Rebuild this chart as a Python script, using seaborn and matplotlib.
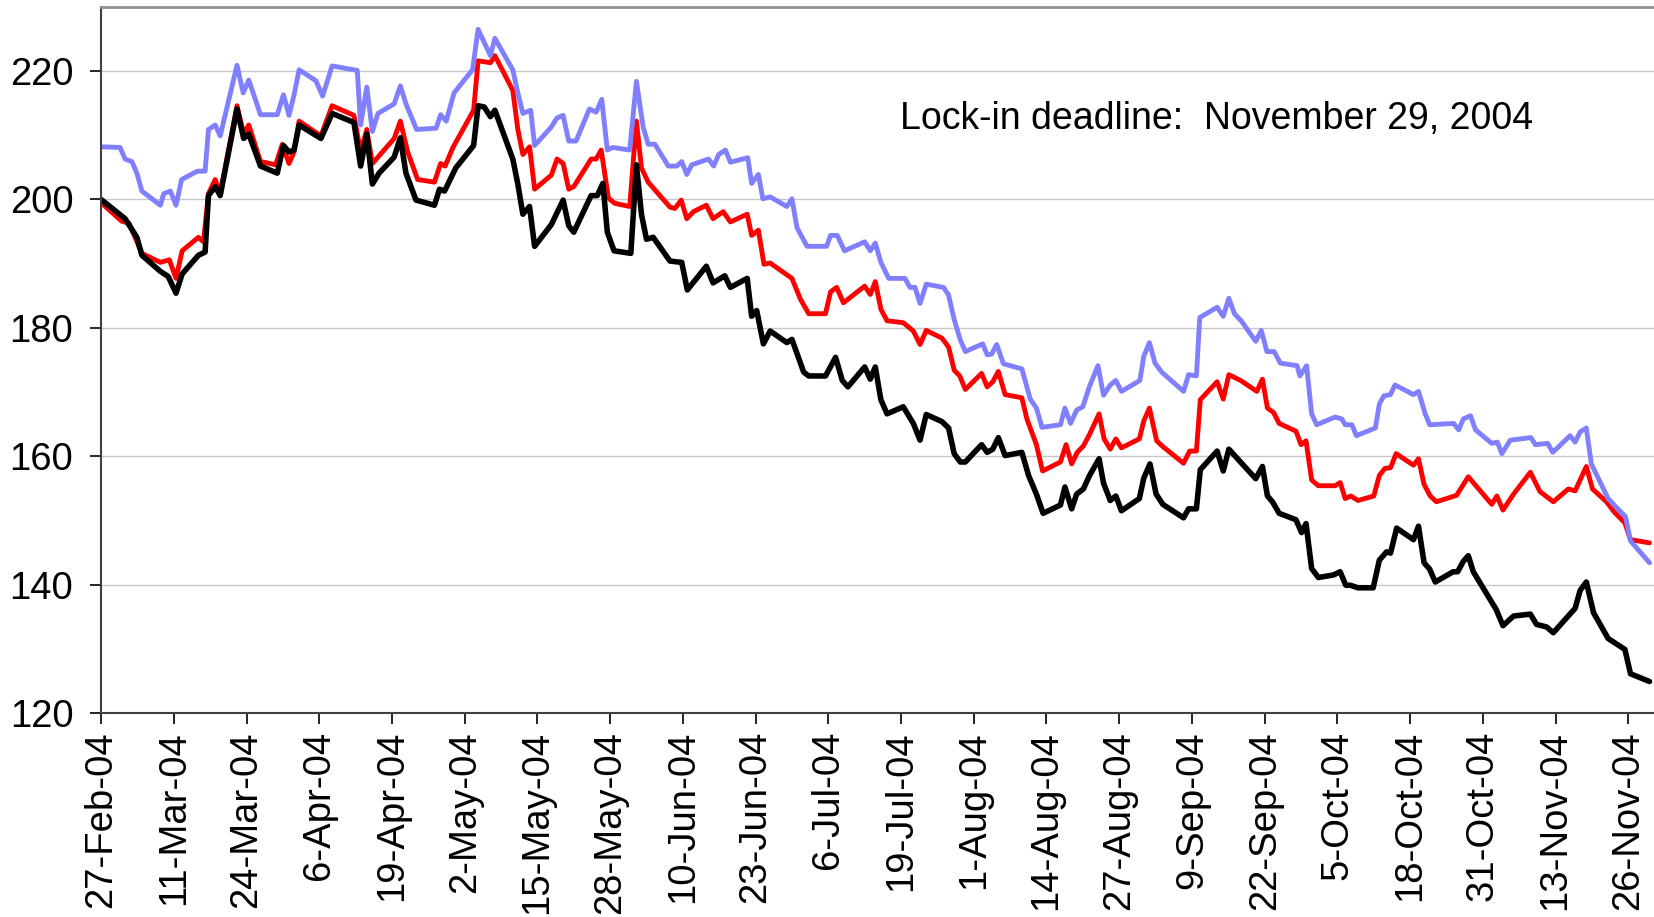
import pandas as pd
import numpy as np
import seaborn as sns
import matplotlib.pyplot as plt
import matplotlib.dates as mdates

# day offsets from 27-Feb-2004 and values
black_days = [0, 3.7, 4.3, 6.4, 7.3, 10.6, 12, 13.4, 14.5, 17.4, 18.6, 19.2, 20.4, 21.3, 24.3, 25.5, 26.4, 28.5, 31.5, 32.6, 33.6, 34.5, 35.4,
              39.3, 41.3, 45.2, 46.4, 47.5, 48.5, 49.7, 52.4, 53.5, 54.5, 56.3, 59.6, 60.5, 61.4, 63.4, 66.6, 67.4, 68.5, 69.6, 70.4,
              73.6, 74.5, 75.4, 76.6, 77.5, 80.5, 82.6, 83.6, 84.5, 87.6, 88.7, 89.7, 90.5, 91.7, 94.7, 95.7, 96.6, 97.5, 98.7, 101.7, 103.8, 104.8,
              108.2, 109.4, 111.5, 112.5, 115.5, 116.3, 117.2, 118.4, 119.6, 122.6, 123.5, 125.6, 126.5, 129.5, 131.3, 132.5, 133.5, 136.5, 137.5, 138.4, 139.4, 140.5,
              143.4, 145.2, 146.4, 147.5, 150.3, 151.5, 152.5, 153.6, 154.5, 157.4, 158.4, 159.4, 160.4, 161.6, 164.6, 165.8, 167.2, 168.4, 171.5, 172.3, 173.5, 174.4, 175.6,
              176.7, 178.4, 179.2, 180.4, 181.4, 182.4, 185.6, 186.4, 187.5, 188.6, 189.8, 193.5, 194.4, 195.8, 196.5, 199.5, 200.6, 201.6, 206.4, 207.6, 208.5, 209.4, 210.6, 213.6,
              214.6, 215.4, 216.4, 217.6, 220.3, 221.5, 222.5, 223.3, 224.7, 227.4, 228.5, 229.8, 230.5, 231.6, 234.6, 235.5, 236.5, 237.5, 238.5, 241.7, 242.5, 243.5,
              244.4, 245.3, 249.4, 250.6, 252.5, 255.5, 256.6, 258.4, 259.6, 263.5, 264.4, 265.5, 266.8, 269.4, 272.4, 273.4, 276.8]
black_vals = [200, 197.4, 197, 194.1, 191.3, 188.8, 188, 185.4, 188.4, 191.3, 191.8, 200.6, 202, 200.6, 214.1, 209.5, 210.2, 205.2, 204.1, 208.4, 207.4, 207.7, 211.6,
              209.5, 213.4, 212, 205.2, 210.2, 202.4, 204.1, 206.6, 209.6, 204.1, 199.9, 199.1, 201.6, 201.3, 204.9, 208.4, 214.6, 214.4, 212.9, 213.9,
              206.3, 202.4, 197.7, 198.9, 192.7, 196.1, 199.9, 195.9, 194.9, 200.6, 200.6, 202.5, 194.9, 192, 191.6, 205.4, 197.7, 193.8, 194.1, 190.4, 190.2, 185.9,
              189.6, 187, 188.1, 186.3, 187.7, 181.8, 182.7, 177.5, 179.5, 177.7, 178.2, 173.1, 172.5, 172.5, 175.4, 171.8, 170.8, 173.9, 172, 173.9, 168.8, 166.6,
              167.7, 165.1, 162.5, 166.5, 165.4, 164.4, 160.4, 159.1, 159.1, 161.8, 160.6, 161.1, 162.9, 160.1, 160.6, 157, 154.1, 151.1, 152.4, 155.2, 151.8, 154.1, 154.9,
              157, 159.6, 155.8, 153.1, 153.8, 151.5, 153.4, 156.6, 158.8, 154.1, 152.5, 150.4, 151.8, 151.8, 157.9, 160.8, 157.7, 161.1, 156.5, 158.4, 153.8, 152.9, 151.1, 150.1,
              148.1, 149.5, 142.5, 141.1, 141.5, 142, 139.9, 139.9, 139.5, 139.5, 143.8, 145.1, 144.9, 148.8, 147, 149.1, 143.4, 142.4, 140.4, 142, 142, 143.6,
              144.5, 142, 136.1, 133.6, 135.1, 135.4, 133.8, 133.4, 132.5, 136.3, 139.1, 140.4, 135.6, 131.6, 129.9, 126.1, 124.9]

red_days = [0, 3.7, 5, 7.3, 10.6, 12.2, 13.4, 14.5, 17.4, 18.3, 19.2, 20.4, 21.3, 24.3, 25.5, 26.4, 28.5, 31.2, 32.4, 33.6, 34.5, 35.4,
            39.3, 41.3, 45.2, 46.4, 47.5, 48.5, 52.4, 53.5, 54.8, 56.6, 59.6, 60.7, 61.5, 62.9, 66.6, 67.4, 69.6, 70.4,
            73.6, 74.5, 75.4, 76.6, 77.5, 80.5, 81.5, 82.6, 83.6, 84.5, 87.6, 88.5, 89.4, 90.7, 91.8, 94.5, 95.7, 96.6, 97.8, 101.7, 102.6, 103.7, 104.7, 105.9,
            108.2, 109.4, 111.2, 112.5, 115.5, 116.3, 117.5, 118.5, 119.6, 123.5, 125, 126.5, 129.5, 130.4, 131.5, 132.7, 136.5, 137.5, 138.4, 139.4, 140.5,
            143.4, 145.2, 146.4, 147.5, 150.3, 151.5, 152.5, 153.5, 154.5, 157.4, 158.4, 159.4, 160.4, 161.6, 164.6, 165.5, 167.2, 168.3, 171.5, 172.5, 173.5, 174.5, 175.6,
            176.7, 178.4, 179.3, 180.4, 181.4, 182.4, 185.6, 186.4, 187.4, 188.7, 189.8, 193.5, 194.6, 195.8, 196.5, 199.5, 200.6, 201.6, 203.7, 206.6, 207.6, 208.5, 209.6, 210.6, 213.6,
            214.5, 215.4, 216.4, 217.6, 220.6, 221.5, 222.4, 223.4, 224.7, 227.5, 228.5, 229.5, 230.5, 231.5, 234.6, 235.5, 236.5, 237.6, 238.7, 242.3,
            244.4, 248.6, 249.5, 250.6, 252.5, 255.5, 257.2, 259.6, 262.3, 263.5, 265.5, 266.6, 269.1, 270.5, 272.4, 273.4, 276.8]
red_vals = [199.5, 196.6, 196.3, 191.6, 190.2, 190.6, 187.7, 192, 194.1, 193.4, 200.9, 203.1, 200.9, 214.6, 210.2, 211.6, 205.9, 205.4, 208.6, 205.6, 207.4, 212.2,
            209.9, 214.6, 213.1, 207.4, 210.9, 205.6, 209.5, 212.2, 207.4, 203.1, 202.7, 205.6, 205.2, 208.1, 213.9, 221.6, 221.3, 222.4,
            217, 210.9, 207, 208.2, 201.6, 203.8, 206.3, 205.6, 201.6, 202, 206.3, 206.3, 207.7, 200.2, 199.4, 198.9, 212.2, 204.9, 202.7, 198.8, 198.6, 199.9, 197, 198.1,
            199.1, 197, 198.1, 196.5, 197.7, 194.4, 195.2, 189.9, 190.1, 187.7, 184.5, 182.2, 182.2, 185.6, 186.3, 183.9, 186.5, 185.2, 187.2, 182.9, 181.1,
            180.8, 179.5, 177.4, 179.6, 178.4, 177, 173.4, 172.5, 170.4, 172.9, 170.8, 171.6, 173.2, 169.6, 169.1, 165.8, 161.8, 157.7, 159.1, 161.8, 158.8, 160.6, 161.6,
            163.4, 166.6, 162.7, 161.1, 162.7, 161.3, 162.7, 165.5, 167.5, 162.4, 161.5, 158.9, 160.8, 160.8, 168.8, 171.6, 168.9, 172.7, 171.8, 170.1, 172, 167.5, 166.8, 165.1, 163.9,
            161.8, 162.4, 156.3, 155.4, 155.4, 155.9, 153.4, 153.8, 153.1, 153.8, 157, 158.1, 158.2, 160.4, 158.6, 159.6, 155.6, 153.8, 152.9, 153.9,
            156.8, 152.5, 153.8, 151.6, 154.1, 157.5, 154.5, 152.9, 154.9, 154.6, 158.4, 154.9, 152.9, 151.3, 149.6, 147, 146.5]

blue_days = [0, 3.4, 4.3, 5.5, 6.4, 7.3, 10.6, 11.2, 12.4, 13.4, 14.4, 17.2, 18.6, 19.2, 20.4, 21.3, 24.3, 25.4, 26.4, 28.5, 31.5, 32.6, 33.6, 34.5, 35.4,
             38.4, 39.6, 41.3, 45.8, 46.4, 47.5, 48.5, 49.5, 52.4, 53.5, 54.5, 56.4, 59.9, 60.7, 61.7, 63.1, 66.4, 67.4, 69.6, 70.4,
             73.6, 74.5, 75.4, 76.8, 77.5, 80.5, 81.5, 82.6, 83.6, 84.9, 87.3, 88.5, 89.5, 90.5, 91.5, 94.5, 95.7, 96.9, 97.8, 99, 101.4, 102.9, 103.8, 104.7, 105.6,
             108.6, 109.5, 110.4, 111.6, 112.5, 115.6, 116.3, 117.5, 118.3, 119.6, 122.6, 123.5, 124.4, 126.2, 129.7, 130.4, 131.6, 132.9, 136.5, 137.5, 138.4, 139.4, 140.8,
             143.7, 144.6, 145.5, 146.4, 147.5, 150.6, 151.5, 152.5, 153.6, 154.5, 157.6, 158.4, 159.2, 160.1, 161.3, 164.6, 166.1, 167.2, 168.2, 171.5, 172.3, 173.3, 174.4, 175.5,
             176.7, 178.2, 179.2, 180.4, 181.4, 182.4, 185.7, 186.4, 187.4, 188.4, 189.6, 193.5, 194.4, 195.8, 196.4, 199.5, 200.6, 201.6, 202.6, 203.8, 206.4, 207.4, 208.4, 209.7, 210.8, 213.8,
             214.3, 215.5, 216.4, 217.3, 220.6, 221.8, 222.4, 223.6, 224.4, 227.8, 228.5, 229.3, 230.5, 231.3, 234.6, 235.5, 236.7, 237.5, 241.8, 242.7, 243.5, 244.8, 245.7,
             248.6, 249.6, 250.4, 251.9, 255.6, 256.4, 258.6, 259.5, 262.6, 263.5, 264.4, 265.5, 266.4, 269.4, 270.9, 272.5, 273.4, 276.8]
blue_vals = [208.2, 208.1, 206.3, 205.9, 204.1, 201.3, 199.1, 200.9, 201.3, 199.1, 203.1, 204.4, 204.4, 210.9, 211.6, 209.9, 220.9, 216.6, 218.6, 213.2, 213.2, 216.3, 213.1, 216.3, 220.2,
             218.5, 216.1, 220.8, 220.1, 211.6, 217.5, 210.6, 213.4, 214.9, 217.7, 214.9, 210.9, 211.1, 213.2, 212.2, 216.6, 220.2, 226.5, 222.4, 225.1,
             220.2, 216.6, 213.4, 213.9, 208.4, 211.3, 212.7, 213.1, 209.1, 209.1, 214.1, 213.6, 215.6, 207.7, 208.1, 207.7, 218.4, 211.3, 208.6, 208.6, 205.2, 205.2, 205.9, 203.9, 205.4,
             206.3, 205.2, 207, 207.7, 205.8, 206.5, 202.5, 203.9, 200.1, 200.4, 198.9, 200.1, 195.6, 192.7, 192.7, 194.4, 194.4, 192, 193.4, 192, 193.2, 190.2, 187.7,
             187.7, 186.3, 186.3, 183.8, 186.8, 186.3, 185.1, 181.3, 178.1, 176.3, 177.5, 175.8, 175.9, 177.4, 174.4, 173.6, 168.9, 167.5, 164.5, 164.9, 167.5, 165.1, 167.2, 167.7,
             170.9, 174.1, 169.5, 171.1, 171.8, 170.1, 171.8, 175.6, 177.7, 174.5, 173.1, 170.1, 172.7, 172.5, 181.6, 183.2, 181.8, 184.6, 182.2, 181.1, 177.9, 179.6, 176.3, 176.3, 174.5, 174.1,
             172.5, 174.1, 166.6, 164.9, 166.1, 165.8, 164.9, 164.9, 163.2, 164.4, 168.1, 169.4, 169.6, 171.1, 169.6, 170.1, 166.6, 164.9, 165.1, 164.1, 165.8, 166.3, 164.1,
             162, 162.2, 160.4, 162.5, 162.9, 161.8, 162, 160.6, 163.2, 162.2, 163.8, 164.4, 158.8, 153.4, 152, 150.6, 146.8, 143.4]

start = pd.Timestamp('2004-02-27')
tick_dates = pd.date_range(start, periods=22, freq='13D')
tick_labels = [f"{d.day}-{d.strftime('%b-%y')}" for d in tick_dates]

def make_df(days, vals):
    return pd.DataFrame({'date': start + pd.to_timedelta(days, unit='D'), 'value': vals})

sns.set_style("white")
plt.rcParams['font.family'] = ['Liberation Sans', 'DejaVu Sans']
plt.rcParams['text.color'] = 'black'
plt.rcParams['xtick.color'] = 'black'
plt.rcParams['ytick.color'] = 'black'

fig = plt.figure(figsize=(16.54, 9.17), dpi=100)
ax = fig.add_axes([0.0611, 0.2225, 0.9389, 0.770])

ax.yaxis.grid(True, color='#c8c8c8', linewidth=1)
ax.set_axisbelow(True)

sns.lineplot(data=make_df(red_days, red_vals), x='date', y='value', color='#ff0000', linewidth=3.5, ax=ax, estimator=None, sort=False)
sns.lineplot(data=make_df(blue_days, blue_vals), x='date', y='value', color='#8080ff', linewidth=3.5, ax=ax, estimator=None, sort=False)
sns.lineplot(data=make_df(black_days, black_vals), x='date', y='value', color='black', linewidth=4, ax=ax, estimator=None, sort=False)

ax.set_ylim(120, 230)
ax.set_yticks([120, 140, 160, 180, 200, 220])
ax.set_xlim(start, start + pd.Timedelta(days=277.6))
ax.set_xticks(tick_dates)
ax.set_xticklabels(tick_labels, rotation=90)
ax.set_xlabel('')
ax.set_ylabel('')
ax.tick_params(axis='x', labelsize=27.5, length=8, width=1.2, direction='out', bottom=True, pad=5)
ax.tick_params(axis='y', labelsize=27.5, length=8, width=1.2, direction='out', left=True, pad=12)

for s in ['left', 'bottom']:
    ax.spines[s].set_color('#404040')
    ax.spines[s].set_linewidth(1.5)
ax.spines['top'].set_color('#909090')
ax.spines['top'].set_linewidth(2)
ax.spines['right'].set_visible(False)

ax.text(start + pd.Timedelta(days=142.8), 212.5, 'Lock-in deadline:  November 29, 2004',
        fontsize=27, ha='left', va='center')

fig.savefig('out.png', dpi=100)
